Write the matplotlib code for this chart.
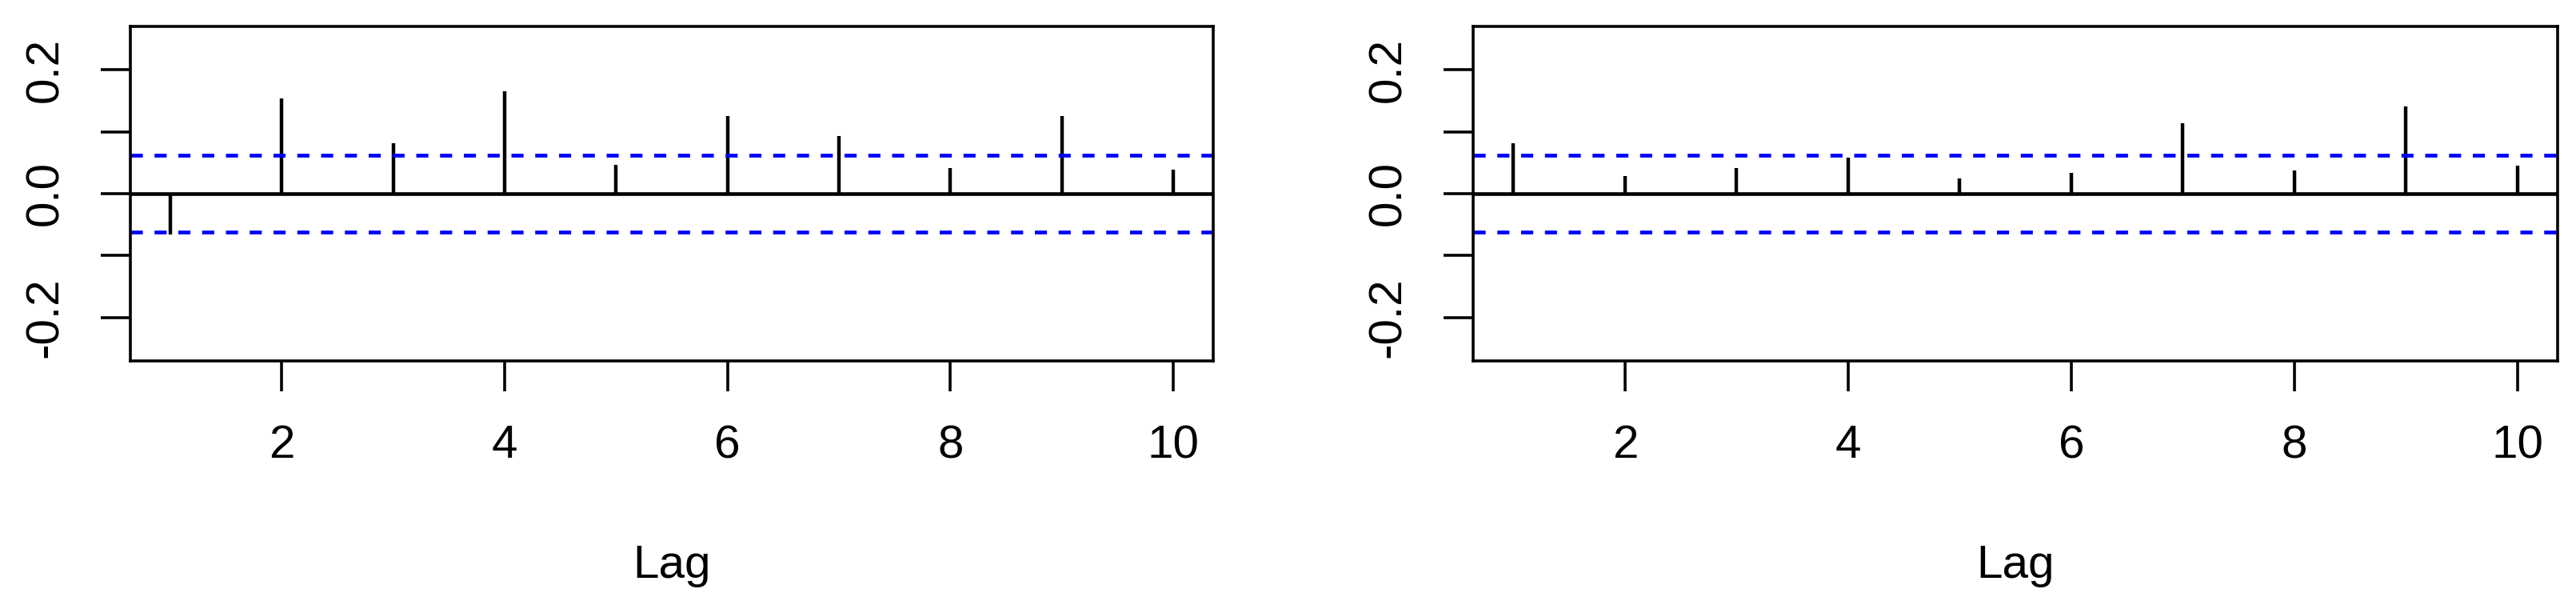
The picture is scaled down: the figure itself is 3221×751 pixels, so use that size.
"""ACF plots of two series, side by side, in the style of R's acf()."""

import matplotlib

matplotlib.use("Agg")
import matplotlib.pyplot as plt

lags = [1, 2, 3, 4, 5, 6, 7, 8, 9, 10]
acf_left = [-0.066, 0.154, 0.081, 0.166, 0.046, 0.126, 0.093, 0.041, 0.126, 0.039]
acf_right = [0.081, 0.029, 0.042, 0.058, 0.025, 0.034, 0.114, 0.037, 0.141, 0.045]
conf_bound = 0.0615

x_ticks = [2, 4, 6, 8, 10]
y_ticks = [-0.2, -0.1, 0.0, 0.1, 0.2]
y_tick_labels = ["-0.2", "", "0.0", "", "0.2"]

plt.rcParams["font.family"] = ["Liberation Sans", "DejaVu Sans"]
plt.rcParams["axes.unicode_minus"] = False


def acf_panel(ax, values):
    """Draw one correlogram with the usual blue dashed confidence bounds."""

    ax.vlines(lags, 0, values, color="black", linewidth=3.2, capstyle="butt")
    ax.axhline(0, color="black", linewidth=3.3)
    for bound in (conf_bound, -conf_bound):
        ax.axhline(
            bound,
            color="#0000ff",
            linewidth=3.4,
            linestyle=(0, (3.2, 3.1)),
            dash_capstyle="butt",
        )

    ax.set_xlim(0.64, 10.36)
    ax.set_ylim(-0.2704, 0.2704)

    ax.set_xticks(x_ticks)
    ax.set_xticklabels([str(t) for t in x_ticks])
    ax.set_yticks(y_ticks)
    ax.set_yticklabels(y_tick_labels, rotation=90, va="center")

    ax.tick_params(
        axis="both", length=27, width=2.6, labelsize=42, color="black"
    )
    ax.tick_params(axis="x", pad=30)
    ax.tick_params(axis="y", pad=30)
    for spine in ax.spines.values():
        spine.set_linewidth(2.6)

    ax.set_xlabel("Lag", fontsize=42, labelpad=69)


fig = plt.figure(figsize=(32.21, 7.51), dpi=100)
ax_left = fig.add_axes([0.0506, 0.3995, 0.4204, 0.5566])
ax_right = fig.add_axes([0.5719, 0.3995, 0.4210, 0.5566])

acf_panel(ax_left, acf_left)
acf_panel(ax_right, acf_right)

fig.savefig("out.png", dpi=100)
